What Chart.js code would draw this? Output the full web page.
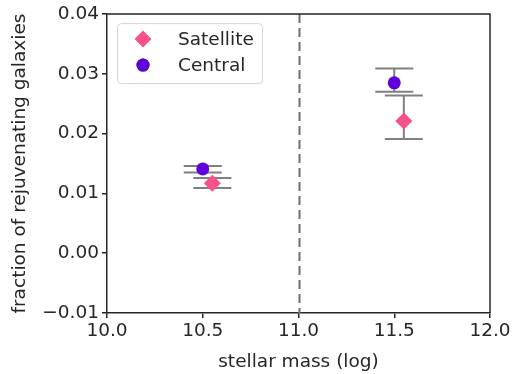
<!DOCTYPE html>
<html>
<head>
<meta charset="utf-8">
<script src="https://cdn.jsdelivr.net/npm/chart.js@4/dist/chart.umd.min.js"></script>
<style>
  html, body { margin: 0; padding: 0; background: #fff; }
  #wrap { width: 515px; height: 374px; }
</style>
</head>
<body>
<div id="wrap"><canvas id="chart" width="515" height="374"></canvas></div>
<script>
// data
const satMass = [10.55, 11.55];
const satFrac = [0.0117, 0.0221];
const satLow = [0.0109, 0.0191];
const satHigh = [0.0126, 0.0264];

const cenMass = [10.5, 11.5];
const cenFrac = [0.0141, 0.0285];
const cenLow = [0.0135, 0.0270];
const cenHigh = [0.0146, 0.0309];

const xTicks = [10.0, 10.5, 11.0, 11.5, 12.0];
const yTicks = [-0.01, 0.00, 0.01, 0.02, 0.03, 0.04];
const dividerMass = 11.0;

const font = "'DejaVu Sans', sans-serif";
const fontSize = 18.5;
const satColor = '#f7508b';
const cenColor = '#6200dc';

function pts(xs, ys, lo, hi) {
  return xs.map((x, i) => ({ x: x, y: ys[i], lo: lo[i], hi: hi[i] }));
}

// error bars, dashed divider, frame and legend drawn on top of the scales
const extras = {
  id: 'extras',
  beforeDatasetsDraw(chart) {
    const ctx = chart.ctx;
    const xs = chart.scales.x, ys = chart.scales.y;
    const a = chart.chartArea;
    ctx.save();
    // dashed divider
    const dx = Math.round(xs.getPixelForValue(dividerMass)) + 0.5;
    ctx.strokeStyle = '#6e6e6e';
    ctx.lineWidth = 2;
    ctx.setLineDash([9, 5]);
    ctx.beginPath();
    ctx.moveTo(dx, a.top);
    ctx.lineTo(dx, a.bottom);
    ctx.stroke();
    ctx.setLineDash([]);
    // error bars
    ctx.strokeStyle = '#808080';
    ctx.lineWidth = 2;
    chart.data.datasets.forEach(ds => {
      ds.data.forEach(p => {
        const px = xs.getPixelForValue(p.x);
        const y1 = ys.getPixelForValue(p.lo);
        const y2 = ys.getPixelForValue(p.hi);
        ctx.beginPath();
        ctx.moveTo(px, y1); ctx.lineTo(px, y2);
        ctx.moveTo(px - 19, y1); ctx.lineTo(px + 19, y1);
        ctx.moveTo(px - 19, y2); ctx.lineTo(px + 19, y2);
        ctx.stroke();
      });
    });
    ctx.restore();
  },
  afterDatasetsDraw(chart) {
    const ctx = chart.ctx;
    const a = chart.chartArea;
    ctx.save();
    // top and right spines
    ctx.strokeStyle = '#262626';
    ctx.lineWidth = 1.5;
    ctx.beginPath();
    ctx.moveTo(a.left, a.top); ctx.lineTo(a.right, a.top); ctx.lineTo(a.right, a.bottom);
    ctx.stroke();
    // legend box
    const lx = a.left + 10, ly = a.top + 9, lw = 145, lh = 60;
    ctx.fillStyle = 'rgba(255,255,255,0.8)';
    ctx.strokeStyle = '#d6d6d6';
    ctx.lineWidth = 1;
    ctx.beginPath();
    ctx.roundRect(lx + 0.5, ly + 0.5, lw, lh, 4);
    ctx.fill(); ctx.stroke();
    ctx.font = fontSize + 'px ' + font;
    ctx.textBaseline = 'middle';
    chart.data.datasets.forEach((ds, i) => {
      const cy = ly + 16 + i * 26;
      Chart.helpers.drawPoint(ctx, {
        pointStyle: ds.pointStyle, radius: ds.pointRadius, borderWidth: 0
      }, lx + 26, cy);
      ctx.fillStyle = ds.backgroundColor;
      ctx.fill();
      ctx.fillStyle = '#262626';
      ctx.fillText(ds.label, lx + 61, cy + 1);
    });
    ctx.restore();
  }
};

new Chart(document.getElementById('chart'), {
  type: 'scatter',
  data: {
    datasets: [
      {
        label: 'Satellite',
        data: pts(satMass, satFrac, satLow, satHigh),
        backgroundColor: satColor,
        borderWidth: 0,
        pointStyle: 'rectRot',
        pointRadius: 8.5,
        pointHoverRadius: 8.5
      },
      {
        label: 'Central',
        data: pts(cenMass, cenFrac, cenLow, cenHigh),
        backgroundColor: cenColor,
        borderWidth: 0,
        pointStyle: 'circle',
        pointRadius: 6.5,
        pointHoverRadius: 6.5
      }
    ]
  },
  options: {
    responsive: false,
    animation: false,
    layout: { padding: { top: 13, right: 25, left: 0, bottom: 0 } },
    plugins: {
      legend: { display: false },
      tooltip: { enabled: false }
    },
    scales: {
      x: {
        type: 'linear',
        min: 10.0, max: 12.0,
        afterBuildTicks: s => { s.ticks = xTicks.map(v => ({ value: v })); },
        afterFit: s => { s.height = 61; },
        ticks: {
          color: '#262626',
          font: { family: font, size: fontSize },
          padding: 2,
          maxRotation: 0,
          callback: v => v.toFixed(1)
        },
        grid: { display: true, drawOnChartArea: false, drawTicks: true, tickLength: 5, color: '#262626', lineWidth: 1.5 },
        border: { display: true, color: '#262626', width: 1.5 },
        title: {
          display: true, text: 'stellar mass (log)', color: '#262626',
          font: { family: font, size: fontSize }, padding: { top: 2, bottom: 1 }
        }
      },
      y: {
        type: 'linear',
        min: -0.01, max: 0.04,
        afterBuildTicks: s => { s.ticks = yTicks.map(v => ({ value: v })); },
        afterFit: s => { s.width = 107; },
        ticks: {
          color: '#262626',
          font: { family: font, size: fontSize },
          padding: 3,
          callback: v => (v < 0 ? '\u2212' : '') + Math.abs(v).toFixed(2)
        },
        grid: { display: true, drawOnChartArea: false, drawTicks: true, tickLength: 5, color: '#262626', lineWidth: 1.5 },
        border: { display: true, color: '#262626', width: 1.5 },
        title: {
          display: true, text: 'fraction of rejuvenating galaxies', color: '#262626',
          font: { family: font, size: fontSize }, padding: { top: 9, bottom: 0 }
        }
      }
    }
  },
  plugins: [extras]
});
</script>
</body>
</html>
